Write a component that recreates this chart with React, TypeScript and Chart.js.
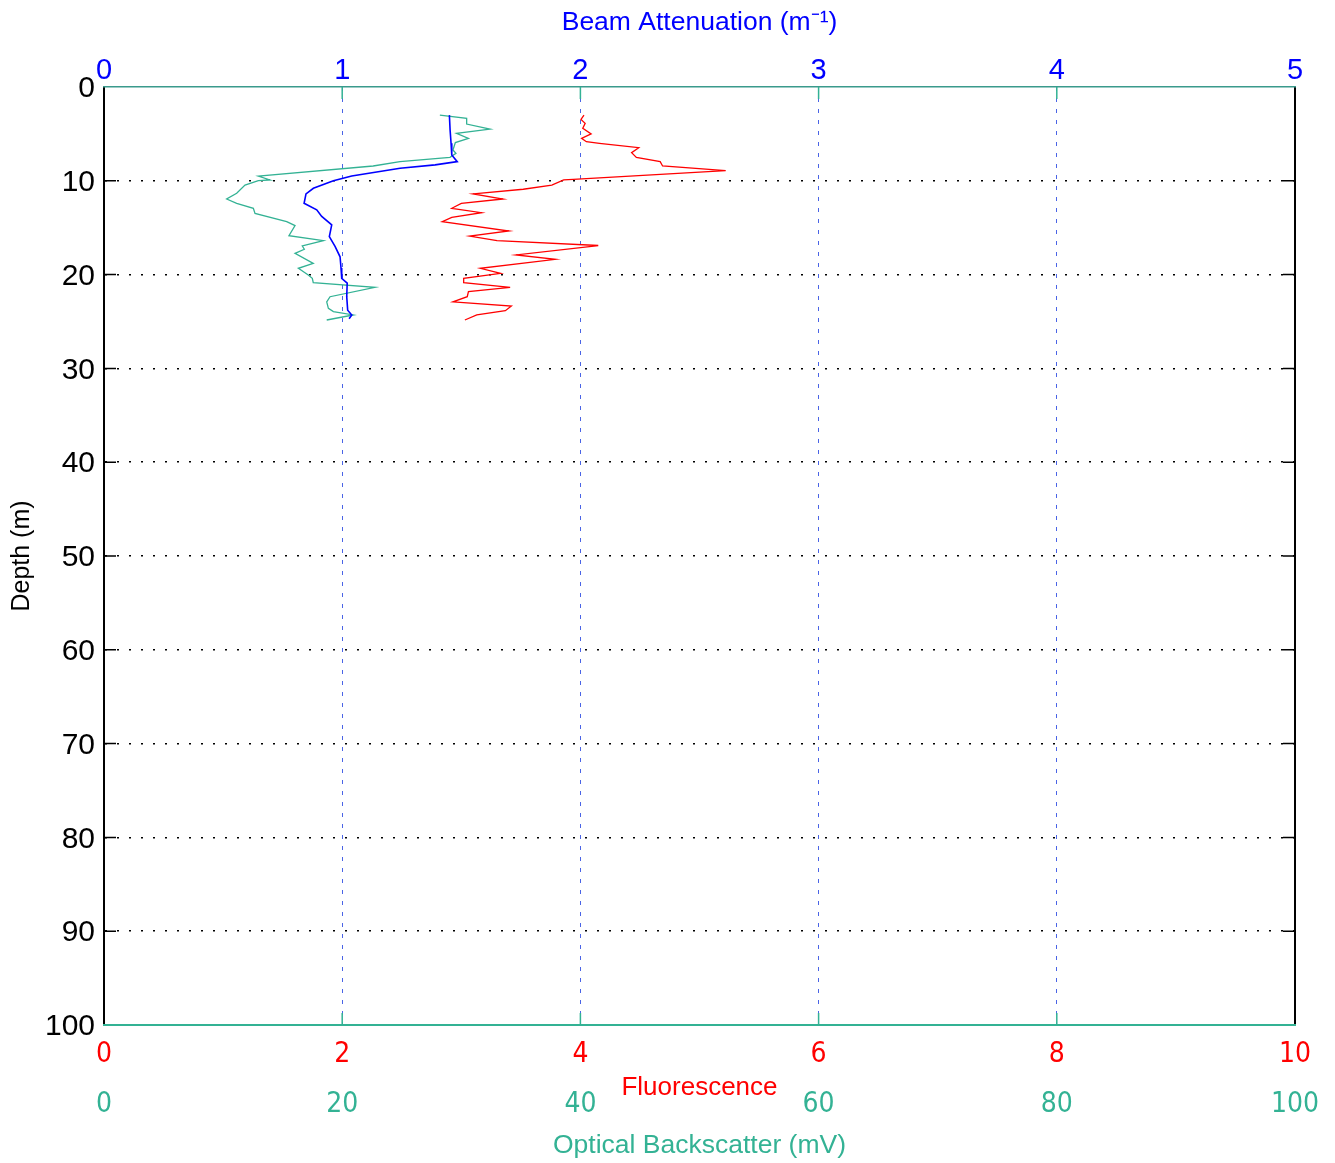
import React, { useEffect, useRef } from "react";
import { Chart, registerables } from "chart.js";

Chart.register(...registerables);

// ---- data (depth in m) ----
const beamDepth = [3.0, 4.6, 6.0, 7.25, 7.96, 8.3, 8.67, 9.49, 10.0, 10.8, 11.4, 12.4, 13.1, 13.8, 14.7, 15.96, 17.0, 18.1, 19.3, 20.4, 20.9, 22.35, 23.8, 24.3, 24.7];
const beamValues = [1.450, 1.453, 1.457, 1.460, 1.483, 1.390, 1.243, 1.040, 0.963, 0.879, 0.848, 0.840, 0.893, 0.914, 0.956, 0.946, 0.970, 0.991, 0.995, 0.998, 1.021, 1.019, 1.023, 1.040, 1.029];

const fluorDepth = [2.99, 3.45, 3.87, 4.4, 5.0, 5.47, 5.83, 6.0, 6.47, 7.0, 7.5, 7.96, 8.42, 8.92, 9.84, 9.91, 10.45, 10.9, 11.4, 11.94, 12.4, 12.93, 13.4, 13.9, 14.36, 15.35, 15.9, 16.38, 16.9, 17.9, 18.37, 19.33, 19.86, 20.4, 20.86, 21.36, 21.8, 22.36, 22.9, 23.35, 23.85, 24.3, 24.84];
const fluorValues = [4.03, 4.005, 4.04, 4.02, 4.09, 4.01, 4.05, 4.16, 4.49, 4.43, 4.47, 4.67, 4.69, 5.22, 3.94, 3.86, 3.76, 3.52, 3.10, 3.35, 3.0, 2.92, 3.17, 2.92, 2.84, 3.40, 3.07, 3.30, 4.15, 3.46, 3.79, 3.16, 3.33, 3.02, 3.02, 3.41, 3.06, 3.05, 2.93, 3.42, 3.37, 3.13, 3.03];

const bsDepth = [2.99, 3.34, 3.95, 4.48, 4.94, 5.47, 5.93, 6.72, 7.07, 7.5, 7.96, 8.42, 9.49, 9.91, 9.98, 10.45, 11.33, 11.94, 12.4, 12.93, 13.47, 14.36, 14.78, 15.85, 16.38, 16.95, 17.3, 17.73, 18.8, 19.33, 20.04, 20.4, 20.86, 21.36, 22.36, 22.9, 23.6, 23.95, 24.3, 24.84];
const bsValues = [28.2, 30.45, 30.45, 32.41, 29.6, 30.6, 29.5, 29.3, 29.55, 29.05, 24.85, 22.6, 12.96, 13.94, 12.96, 11.84, 11.14, 10.3, 11.14, 12.54, 12.68, 15.34, 16.04, 15.53, 18.42, 16.65, 16.82, 16.04, 17.57, 16.32, 17.15, 17.49, 17.57, 22.75, 18.98, 18.7, 18.84, 19.26, 20.93, 18.7];

const depthRange = [0, 100];
const depthStep = 10;
const beamRange = [0, 5];
const beamStep = 1;
const fluorRange = [0, 10];
const fluorStep = 2;
const bsRange = [0, 100];
const bsStep = 20;

const BLUE = "#0000ff";
const RED = "#ff0000";
const TEAL = "#33b294";
const GRID_BLUE = "#4a64e6";
const SANS = '"Liberation Sans", Arial, sans-serif';
const NARROW = '"Liberation Sans Narrow", "DejaVu Sans Condensed", "Liberation Sans", Arial, sans-serif';

const toPoints = (xs: number[], ys: number[]) => xs.map((v, i) => ({ x: v, y: ys[i] }));

const innerTicks = {
  id: "innerTicks",
  afterDatasetsDraw(chart: any) {
    const { ctx, chartArea, scales } = chart;
    const { left, right, top, bottom } = chartArea;
    ctx.save();
    ctx.setLineDash([]);
    ctx.lineWidth = 1.5;
    ctx.strokeStyle = "#000";
    scales.y.ticks.forEach((t: any) => {
      if (t.value === depthRange[0] || t.value === depthRange[1]) return;
      const y = scales.y.getPixelForValue(t.value);
      ctx.beginPath();
      ctx.moveTo(left, y);
      ctx.lineTo(left + 12, y);
      ctx.moveTo(right - 12, y);
      ctx.lineTo(right, y);
      ctx.stroke();
    });
    ctx.strokeStyle = TEAL;
    scales.x.ticks.forEach((t: any) => {
      if (t.value === fluorRange[0] || t.value === fluorRange[1]) return;
      const x = scales.x.getPixelForValue(t.value);
      ctx.beginPath();
      ctx.moveTo(x, top);
      ctx.lineTo(x, top + 12);
      ctx.moveTo(x, bottom - 12);
      ctx.lineTo(x, bottom);
      ctx.stroke();
    });
    ctx.restore();
  },
};

export default function App() {
  const ref = useRef<HTMLCanvasElement | null>(null);

  useEffect(() => {
    document.body.style.margin = "0";
    document.body.style.overflow = "hidden";
    const canvas = ref.current;
    if (!canvas) return;
    const chart = new Chart(canvas, {
      type: "scatter",
      data: {
        datasets: [
          {
            label: "Beam Attenuation",
            data: toPoints(beamValues, beamDepth),
            xAxisID: "xTop",
            yAxisID: "y",
            showLine: true,
            borderColor: BLUE,
            borderWidth: 1.6,
            pointRadius: 0,
            order: 0,
          },
          {
            label: "Fluorescence",
            data: toPoints(fluorValues, fluorDepth),
            xAxisID: "x",
            yAxisID: "y",
            showLine: true,
            borderColor: RED,
            borderWidth: 1.3,
            pointRadius: 0,
            order: 1,
          },
          {
            label: "Optical Backscatter",
            data: toPoints(bsValues, bsDepth),
            xAxisID: "xBs",
            yAxisID: "y",
            showLine: true,
            borderColor: TEAL,
            borderWidth: 1.3,
            pointRadius: 0,
            order: 2,
          },
        ],
      },
      options: {
        animation: false,
        responsive: false,
        devicePixelRatio: 1,
        layout: { padding: 0 },
        plugins: {
          legend: { display: false },
          tooltip: { enabled: false },
        },
        scales: {
          y: {
            type: "linear",
            position: "left",
            reverse: true,
            min: depthRange[0],
            max: depthRange[1],
            afterFit: (s: any) => { s.width = 104; },
            ticks: {
              stepSize: depthStep,
              autoSkip: false,
              color: "#000",
              padding: 9,
              labelOffset: 2,
              font: { family: SANS, size: 30 },
            },
            grid: {
              drawTicks: false,
              lineWidth: 1.5,
              color: (c: any) =>
                c.tick && (c.tick.value === depthRange[0] || c.tick.value === depthRange[1]) ? "rgba(0,0,0,0)" : "#000",
            },
            border: { display: true, color: "#000", width: 2, dash: [2, 10] },
            title: {
              display: true,
              text: "Depth (m)",
              color: "#000",
              font: { family: SANS, size: 25 },
              padding: { top: 7, bottom: 0 },
            },
          },
          yR: {
            type: "linear",
            position: "right",
            reverse: true,
            min: depthRange[0],
            max: depthRange[1],
            afterFit: (s: any) => { s.width = 40; },
            ticks: { display: false },
            grid: { display: false, drawTicks: false },
            border: { display: true, color: "#000", width: 2 },
          },
          xTop: {
            type: "linear",
            position: "top",
            min: beamRange[0],
            max: beamRange[1],
            afterFit: (s: any) => { s.height = 87; },
            ticks: {
              stepSize: beamStep,
              autoSkip: false,
              maxRotation: 0,
              color: BLUE,
              padding: -1.5,
              font: { family: SANS, size: 29 },
            },
            grid: { display: false, drawTicks: false },
            border: { display: true, color: "#3a9a8c", width: 1.5 },
            title: {
              display: true,
              text: "Beam Attenuation (m\u207B\u00B9)",
              color: BLUE,
              font: { family: SANS, size: 26.5 },
              padding: { top: 7, bottom: 0 },
            },
          },
          x: {
            type: "linear",
            position: "bottom",
            weight: 0,
            min: fluorRange[0],
            max: fluorRange[1],
            afterFit: (s: any) => { s.height = 60; },
            ticks: {
              stepSize: fluorStep,
              autoSkip: false,
              maxRotation: 0,
              color: RED,
              padding: 12.5,
              font: { family: NARROW, size: 28 },
            },
            grid: {
              drawTicks: false,
              lineWidth: 1,
              color: (c: any) =>
                c.tick && (c.tick.value === fluorRange[0] || c.tick.value === fluorRange[1]) ? "rgba(0,0,0,0)" : GRID_BLUE,
            },
            border: { display: true, color: TEAL, width: 2, dash: [4, 7] },
            title: {
              display: true,
              text: "Fluorescence",
              color: RED,
              font: { family: SANS, size: 26 },
              padding: { top: 0, bottom: -18.6 },
            },
          },
          xBs: {
            type: "linear",
            position: "bottom",
            weight: 1,
            min: bsRange[0],
            max: bsRange[1],
            afterFit: (s: any) => { s.height = 78; },
            ticks: {
              stepSize: bsStep,
              autoSkip: false,
              maxRotation: 0,
              color: TEAL,
              padding: 3,
              font: { family: NARROW, size: 28 },
            },
            grid: { display: false, drawTicks: false },
            border: { display: false },
            title: {
              display: true,
              text: "Optical Backscatter (mV)",
              color: TEAL,
              font: { family: SANS, size: 26.5 },
              padding: { top: 0, bottom: 1.6 },
            },
          },
        },
      } as any,
      plugins: [innerTicks],
    });
    return () => chart.destroy();
  }, []);

  return (
    <div style={{ width: 1335, height: 1163, background: "#fff" }}>
      <canvas ref={ref} width={1335} height={1163} style={{ display: "block", width: 1335, height: 1163 }} />
    </div>
  );
}
